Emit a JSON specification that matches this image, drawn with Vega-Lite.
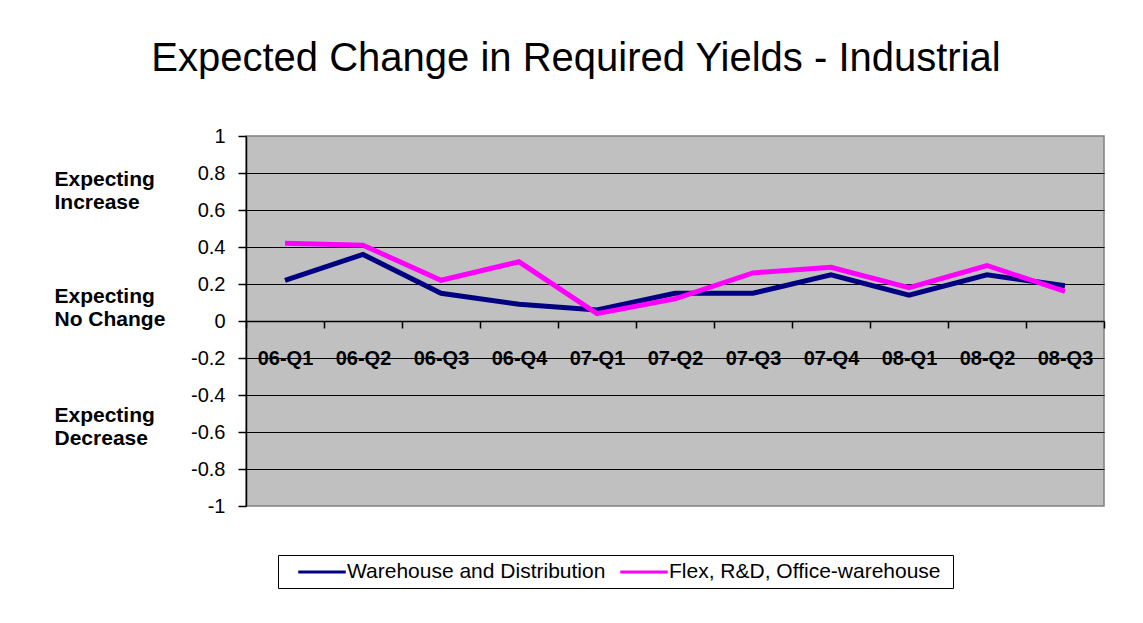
{
  "$schema": "https://vega.github.io/schema/vega-lite/v6.json",
  "width": 858,
  "height": 370,
  "autosize": {"type": "none"},
  "padding": {"left": 246, "top": 136, "right": 39, "bottom": 117},
  "background": "white",
  "config": {
    "font": "Liberation Sans",
    "view": {"fill": "#C0C0C0", "stroke": "#808080", "strokeWidth": 1.5}
  },
  "title": {
    "text": "Expected Change in Required Yields - Industrial",
    "font": "Liberation Sans",
    "fontSize": 40,
    "fontWeight": "normal",
    "color": "black",
    "anchor": "middle",
    "frame": "group",
    "dx": -99,
    "baseline": "alphabetic",
    "offset": 15
  },
  "data": {
    "values": [
      {"q": "06-Q1", "series": "Warehouse and Distribution", "v": 0.22},
      {"q": "06-Q2", "series": "Warehouse and Distribution", "v": 0.36},
      {"q": "06-Q3", "series": "Warehouse and Distribution", "v": 0.15},
      {"q": "06-Q4", "series": "Warehouse and Distribution", "v": 0.09},
      {"q": "07-Q1", "series": "Warehouse and Distribution", "v": 0.06},
      {"q": "07-Q2", "series": "Warehouse and Distribution", "v": 0.15},
      {"q": "07-Q3", "series": "Warehouse and Distribution", "v": 0.15},
      {"q": "07-Q4", "series": "Warehouse and Distribution", "v": 0.25},
      {"q": "08-Q1", "series": "Warehouse and Distribution", "v": 0.14},
      {"q": "08-Q2", "series": "Warehouse and Distribution", "v": 0.25},
      {"q": "08-Q3", "series": "Warehouse and Distribution", "v": 0.19},
      {"q": "06-Q1", "series": "Flex, R&D,  Office-warehouse", "v": 0.42},
      {"q": "06-Q2", "series": "Flex, R&D,  Office-warehouse", "v": 0.41},
      {"q": "06-Q3", "series": "Flex, R&D,  Office-warehouse", "v": 0.22},
      {"q": "06-Q4", "series": "Flex, R&D,  Office-warehouse", "v": 0.32},
      {"q": "07-Q1", "series": "Flex, R&D,  Office-warehouse", "v": 0.04},
      {"q": "07-Q2", "series": "Flex, R&D,  Office-warehouse", "v": 0.12},
      {"q": "07-Q3", "series": "Flex, R&D,  Office-warehouse", "v": 0.26},
      {"q": "07-Q4", "series": "Flex, R&D,  Office-warehouse", "v": 0.29},
      {"q": "08-Q1", "series": "Flex, R&D,  Office-warehouse", "v": 0.18},
      {"q": "08-Q2", "series": "Flex, R&D,  Office-warehouse", "v": 0.30},
      {"q": "08-Q3", "series": "Flex, R&D,  Office-warehouse", "v": 0.16}
    ]
  },
  "layer": [
    {
      "mark": {"type": "line", "strokeWidth": 5, "strokeJoin": "miter"},
      "encoding": {
        "x": {
          "field": "q",
          "type": "ordinal",
          "sort": null,
          "bandPosition": 0.5,
          "scale": {"type": "band", "paddingInner": 0, "paddingOuter": 0},
          "axis": {
            "title": null,
            "orient": "bottom",
            "offset": -185,
            "tickBand": "extent",
            "domainColor": "black",
            "domainWidth": 1.5,
            "tickColor": "black",
            "tickSize": 7,
            "tickWidth": 1.5,
            "labelAngle": 0,
            "labelFont": "Liberation Sans",
            "labelFontSize": 20,
            "labelFontWeight": "bold",
            "labelColor": "black",
            "labelPadding": 20,
            "labelLimit": 0,
            "grid": false
          }
        },
        "y": {
          "field": "v",
          "type": "quantitative",
          "scale": {"domain": [-1, 1], "nice": false, "zero": false},
          "axis": {
            "title": null,
            "orient": "left",
            "values": [-1, -0.8, -0.6, -0.4, -0.2, 0, 0.2, 0.4, 0.6, 0.8, 1],
            "labelExpr": "'' + datum.value",
            "domainColor": "black",
            "domainWidth": 1.5,
            "tickColor": "black",
            "tickSize": 8,
            "tickWidth": 1.5,
            "labelFont": "Liberation Sans",
            "labelFontSize": 20,
            "labelColor": "black",
            "labelPadding": 13,
            "grid": true,
            "gridColor": {"condition": {"test": "abs(datum.value) > 0.99", "value": "transparent"}, "value": "black"},
            "gridWidth": 1.2,
            "gridOpacity": 1
          }
        },
        "color": {
          "field": "series",
          "type": "nominal",
          "sort": ["Warehouse and Distribution", "Flex, R&D,  Office-warehouse"],
          "scale": {
            "domain": ["Warehouse and Distribution", "Flex, R&D,  Office-warehouse"],
            "range": ["#000080", "#FF00FF"]
          },
          "legend": {
            "title": null,
            "orient": "none",
            "direction": "horizontal",
            "legendX": 32,
            "legendY": 419,
            "strokeColor": "black",
            "fillColor": "white",
            "padding": 6,
            "symbolType": "M-2.5,0H2.5",
            "symbolSize": 361,
            "symbolStrokeWidth": 3,
            "symbolOffset": 27,
            "labelOffset": 14,
            "labelFont": "Liberation Sans",
            "labelFontSize": 21,
            "labelColor": "black",
            "labelLimit": 0,
            "columnPadding": 0
          }
        }
      }
    },
    {
      "mark": {"type": "line", "strokeOpacity": 0},
      "encoding": {
        "x": {"field": "q", "type": "ordinal", "sort": null, "bandPosition": 0.5},
        "y": {
          "field": "v",
          "type": "quantitative",
          "axis": {
            "title": null,
            "orient": "left",
            "offset": 192,
            "values": [0.765, 0.13, -0.51],
            "labelExpr": "datum.value > 0.5 ? ['Expecting', 'Increase'] : (datum.value > -0.3 ? ['Expecting', 'No Change'] : ['Expecting', 'Decrease'])",
            "domain": false,
            "ticks": false,
            "tickSize": 0,
            "grid": false,
            "labelAlign": "left",
            "labelBaseline": "middle",
            "labelPadding": 0,
            "labelLineHeight": 23,
            "labelLimit": 0,
            "labelFont": "Liberation Sans",
            "labelFontSize": 21,
            "labelFontWeight": "bold",
            "labelColor": "black"
          }
        }
      }
    }
  ],
  "resolve": {"axis": {"y": "independent"}}
}
